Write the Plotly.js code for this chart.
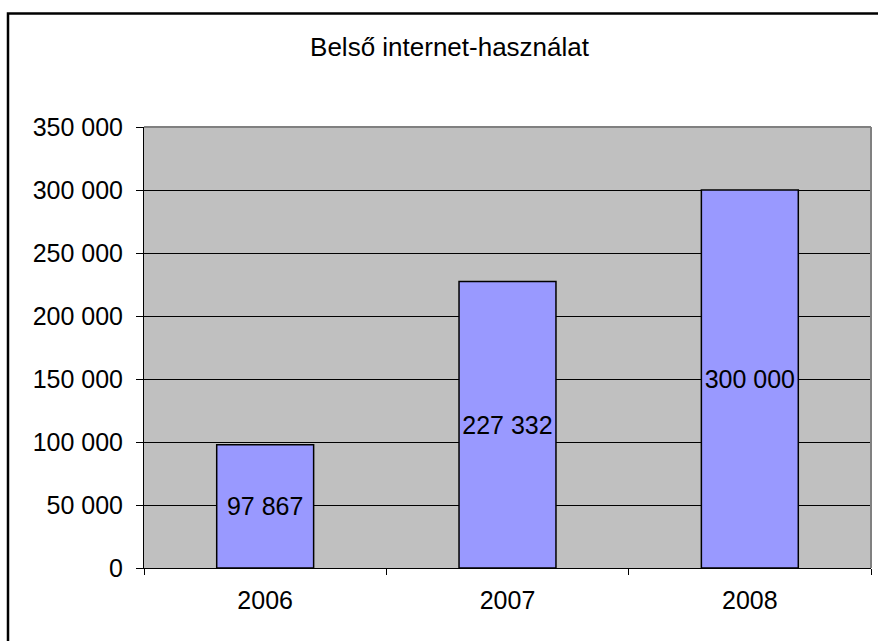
<!DOCTYPE html>
<html>
<head>
<meta charset="utf-8">
<script src="https://cdn.plot.ly/plotly-3.0.1.min.js"></script>
<style>html,body{margin:0;padding:0;background:#fff;overflow:hidden;}#chart{width:878px;height:641px;}</style>
</head>
<body>
<div id="chart"></div>
<script>
const years = ['2006', '2007', '2008'];
const usage = [97867, 227332, 300000];
const yTicks = [0, 50000, 100000, 150000, 200000, 250000, 300000, 350000];
const chartTitle = 'Belső internet-használat';

const font = 'Liberation Sans, Arial, sans-serif';
const pw = 727, ph = 441;
function px(x) { return (x - 144) / pw; }
function py(y) { return (568 - y) / ph; }

const trace = {
  type: 'bar',
  x: years,
  y: usage,
  marker: { color: '#9999ff', line: { color: '#000000', width: 1.5 } },
  texttemplate: '%{y:,.0f}',
  textposition: 'inside',
  insidetextanchor: 'middle',
  constraintext: 'none',
  textfont: { family: font, size: 25, color: '#000000' },
  hoverinfo: 'none'
};

const layout = {
  width: 878, height: 641,
  margin: { l: 144, r: 7, t: 127, b: 73, pad: 0 },
  paper_bgcolor: '#ffffff',
  plot_bgcolor: '#c0c0c0',
  separators: ', ',
  showlegend: false,
  bargap: 0.6,
  font: { family: font, size: 25, color: '#000000' },
  title: {
    text: chartTitle,
    font: { family: font, size: 26, color: '#000000' },
    xref: 'container', x: 0.512, xanchor: 'center',
    yref: 'container', y: 1 - 47 / 641, yanchor: 'middle'
  },
  xaxis: {
    type: 'category',
    showgrid: false,
    ticks: 'outside', tickson: 'boundaries', ticklen: 6, tickcolor: '#000000', tickwidth: 1,
    showline: true, linecolor: '#000000', linewidth: 1,
    tickfont: { family: font, size: 25, color: '#000000' },
    ticklabelstandoff: 10,
    zeroline: false, fixedrange: true
  },
  yaxis: {
    range: [0, 350000],
    tickvals: yTicks,
    tickformat: ',d',
    showgrid: true, gridcolor: '#000000', gridwidth: 1,
    ticks: 'outside', ticklen: 7, tickcolor: '#000000', tickwidth: 1,
    showline: true, linecolor: '#000000', linewidth: 1,
    zeroline: false,
    tickfont: { family: font, size: 25, color: '#000000' },
    ticklabelstandoff: 8,
    fixedrange: true
  },
  shapes: [
    { type: 'line', xref: 'paper', yref: 'paper', x0: 0, x1: 1, y0: 1, y1: 1, line: { color: '#808080', width: 2 } },
    { type: 'line', xref: 'paper', yref: 'paper', x0: 1, x1: 1, y0: 0, y1: 1, line: { color: '#808080', width: 2 } },
    { type: 'rect', xref: 'paper', yref: 'paper', x0: px(8), x1: px(920), y0: py(680), y1: py(13.5), line: { color: '#000000', width: 2.5 }, fillcolor: 'rgba(0,0,0,0)', layer: 'above' }
  ]
};

Plotly.newPlot('chart', [trace], layout, { displayModeBar: false, staticPlot: true });
</script>
</body>
</html>
